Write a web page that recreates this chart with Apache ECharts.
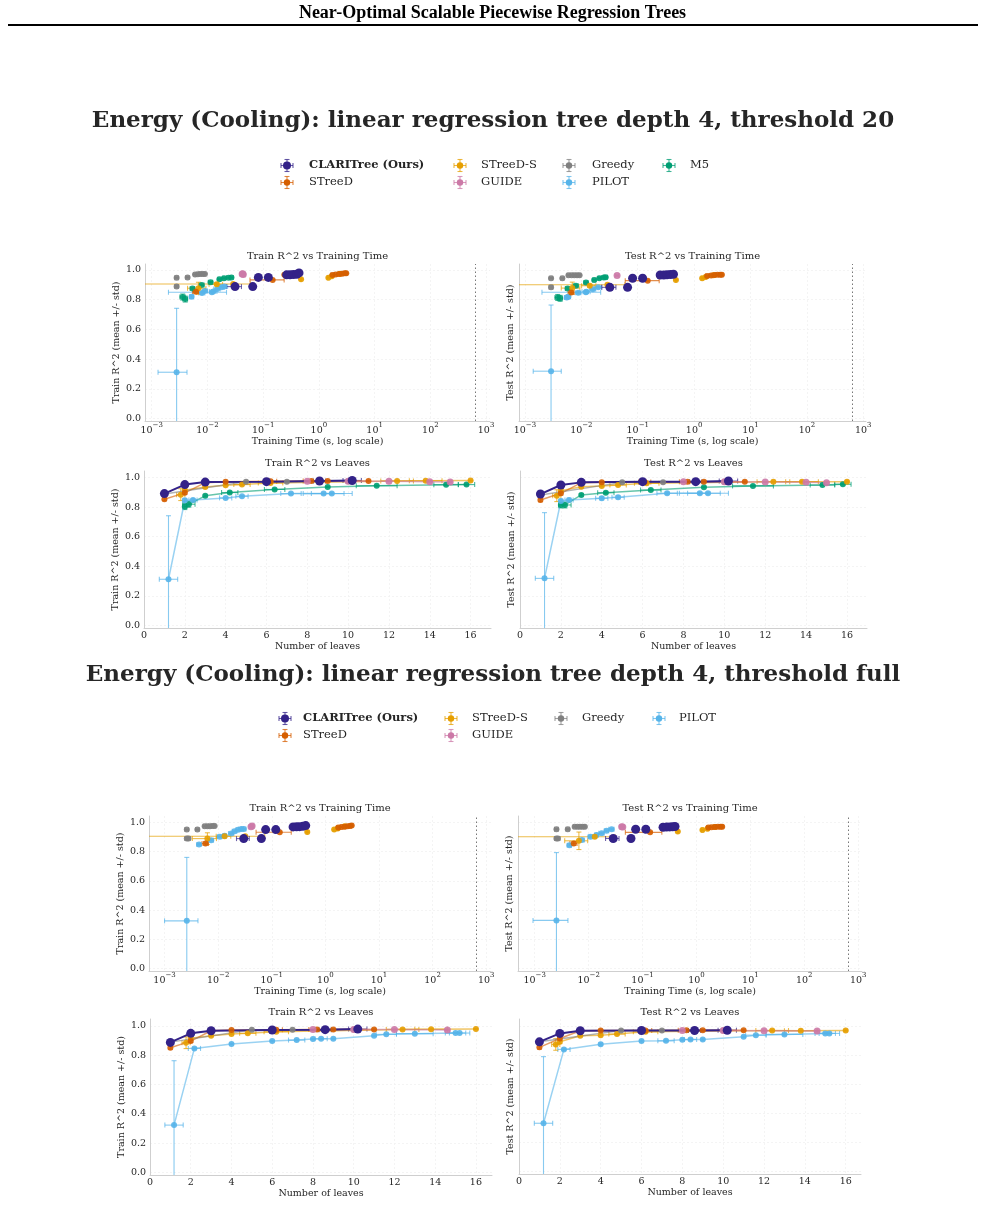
<!DOCTYPE html>
<html><head><meta charset="utf-8">
<script src="https://cdn.jsdelivr.net/npm/echarts@6/dist/echarts.min.js"></script>
<style>html,body{margin:0;padding:0;background:#fff}#c{width:985px;height:1222px}</style>
</head><body><div id="c"></div>
<script>
// ---------------- DATA ----------------
const TIME_LIMIT_S = 650;
const methods = ['CLARITree (Ours)', 'STreeD', 'STreeD-S', 'GUIDE', 'Greedy', 'PILOT', 'M5'];
const yTicks = [0, 0.2, 0.4, 0.6, 0.8, 1.0];
const logTimeTicks = [-3, -2, -1, 0, 1, 2, 3];
const leafTicks = [0, 2, 4, 6, 8, 10, 12, 14, 16];

// time rows: [time_s, time_std, r2, r2_std]; leaf rows: [leaves, leaves_std, r2, r2_std]
const s1TrainTime = {
  'CLARITree (Ours)': [[0.0313,0.0095,0.888,0.008],[0.065,0.004,0.888,0.008],[0.082,0.004,0.950,0.004],[0.124,0.005,0.950,0.004],[0.264,0.02,0.967,0.003],[0.303,0.02,0.968,0.003],[0.348,0.03,0.969,0.003],[0.40,0.03,0.971,0.003],[0.44,0.03,0.980,0.003]],
  'STreeD': [[0.0062,0.0008,0.854,0.01],[0.148,0.09,0.933,0.004],[0.24,0.01,0.968,0.003],[1.75,0.1,0.966,0.003],[2.0,0.1,0.969,0.003],[2.3,0.1,0.972,0.003],[2.6,0.15,0.975,0.003],[2.9,0.15,0.977,0.003],[3.1,0.15,0.978,0.003]],
  'STreeD-S': [[0.0069,0.0025,0.877,0.04],[0.0147,0.004,0.904,0.01],[0.029,0.03,0.905,0.005],[0.479,0.01,0.937,0.004],[1.48,0.05,0.948,0.003],[1.7,0.05,0.958,0.003],[2.4,0.1,0.974,0.003]],
  'GUIDE': [[0.042,0.003,0.972,0.004],[0.044,0.003,0.969,0.004],[0.043,0.003,0.975,0.004]],
  'Greedy': [[0.0028,0.0002,0.889,0.008],[0.0028,0.0002,0.948,0.004],[0.0044,0.0003,0.950,0.004],[0.0060,0.0003,0.970,0.003],[0.0067,0.0003,0.971,0.003],[0.0074,0.0003,0.972,0.003],[0.0082,0.0003,0.972,0.003],[0.0090,0.0003,0.973,0.003]],
  'PILOT': [[0.0028,0.0015,0.312,0.43],[0.0052,0.0004,0.820,0.01],[0.0080,0.001,0.845,0.008],[0.0090,0.001,0.858,0.006],[0.0120,0.010,0.850,0.006],[0.0128,0.002,0.855,0.006],[0.0150,0.002,0.872,0.005],[0.0180,0.002,0.883,0.005],[0.0200,0.003,0.888,0.005]],
  'M5': [[0.0036,0.0004,0.818,0.02],[0.0040,0.0004,0.804,0.02],[0.0054,0.0005,0.876,0.006],[0.0079,0.0008,0.899,0.005],[0.0114,0.001,0.917,0.005],[0.0164,0.001,0.937,0.004],[0.0198,0.001,0.944,0.004],[0.024,0.002,0.948,0.004],[0.027,0.002,0.949,0.004]]
};
const s1TestTime = {
  'CLARITree (Ours)': [[0.032,0.009,0.883,0.01],[0.066,0.004,0.883,0.01],[0.081,0.004,0.944,0.005],[0.122,0.005,0.944,0.005],[0.25,0.02,0.966,0.004],[0.29,0.02,0.966,0.004],[0.33,0.03,0.967,0.004],[0.38,0.03,0.969,0.004],[0.43,0.03,0.971,0.004]],
  'STreeD': [[0.0066,0.0008,0.849,0.012],[0.15,0.09,0.928,0.005],[0.24,0.01,0.962,0.004],[1.7,0.1,0.960,0.004],[2.0,0.1,0.963,0.004],[2.3,0.1,0.966,0.004],[2.6,0.15,0.967,0.004],[2.9,0.15,0.968,0.004],[3.1,0.15,0.968,0.004]],
  'STreeD-S': [[0.0069,0.0025,0.878,0.04],[0.0141,0.004,0.894,0.01],[0.029,0.03,0.90,0.006],[0.475,0.01,0.933,0.004],[1.39,0.05,0.944,0.004],[1.6,0.05,0.952,0.004],[2.2,0.1,0.964,0.004]],
  'GUIDE': [[0.043,0.003,0.962,0.005]],
  'Greedy': [[0.0029,0.0002,0.883,0.01],[0.0029,0.0002,0.944,0.005],[0.0046,0.0003,0.944,0.005],[0.0059,0.0003,0.964,0.004],[0.0067,0.0003,0.964,0.004],[0.0075,0.0003,0.965,0.004],[0.0084,0.0003,0.965,0.004],[0.0093,0.0003,0.965,0.004]],
  'PILOT': [[0.0029,0.0015,0.319,0.445],[0.0055,0.0005,0.815,0.01],[0.0059,0.0005,0.82,0.01],[0.0088,0.001,0.847,0.008],[0.012,0.010,0.85,0.008],[0.0123,0.002,0.854,0.008],[0.016,0.002,0.870,0.006],[0.0199,0.003,0.883,0.006]],
  'M5': [[0.0038,0.0004,0.815,0.02],[0.0042,0.0004,0.809,0.02],[0.0057,0.0005,0.876,0.008],[0.0080,0.0008,0.894,0.006],[0.0121,0.001,0.915,0.005],[0.0169,0.001,0.933,0.005],[0.0208,0.001,0.944,0.005],[0.025,0.002,0.950,0.005],[0.027,0.002,0.951,0.005]]
};
const s1TrainLeaves = {
  'CLARITree (Ours)': [[1,0,0.892,0.008],[2,0,0.953,0.004],[3,0,0.970,0.003],[6,0,0.973,0.003],[8.6,0.3,0.977,0.003],[10.2,0.45,0.981,0.003]],
  'STreeD': [[1,0,0.854,0.01],[2,0,0.897,0.01],[3,0,0.966,0.004],[4,0,0.972,0.003],[6.2,0.3,0.975,0.003],[8.2,0.4,0.977,0.003],[9,0,0.977,0.003],[11,0,0.978,0.003]],
  'STreeD-S': [[1.8,0.2,0.885,0.04],[2,0,0.915,0.01],[3,0,0.937,0.006],[4,0,0.948,0.004],[4.8,0.4,0.953,0.004],[6.2,0.6,0.964,0.003],[12.4,0.8,0.978,0.003],[13.8,0.8,0.979,0.003],[16,0,0.980,0.003]],
  'GUIDE': [[8,0,0.975,0.003],[10,0,0.975,0.003],[12,0,0.976,0.003],[14,0,0.972,0.003],[15,0,0.970,0.003]],
  'Greedy': [[1,0,0.889,0.008],[5,0,0.972,0.003],[7,0,0.973,0.003],[10,0,0.975,0.003]],
  'PILOT': [[1.2,0.45,0.312,0.43],[2,0,0.847,0.01],[2.4,0.2,0.848,0.01],[4,0.3,0.863,0.006],[4.8,0.3,0.874,0.005],[7.2,0.5,0.892,0.005],[8.8,1.0,0.892,0.005],[9.2,1.0,0.893,0.005]],
  'M5': [[2,0.1,0.804,0.02],[2.2,0.3,0.82,0.02],[3,0,0.877,0.006],[4.2,0.4,0.899,0.005],[6.4,0.5,0.920,0.004],[9,0,0.937,0.004],[11.4,1.0,0.945,0.004],[14.8,0.6,0.952,0.004],[15.8,0.4,0.953,0.004]]
};
const s1TestLeaves = {
  'CLARITree (Ours)': [[1,0,0.889,0.01],[2,0,0.950,0.005],[3,0,0.968,0.004],[6,0,0.973,0.004],[8.6,0.3,0.973,0.004],[10.2,0.45,0.977,0.004]],
  'STreeD': [[1,0,0.849,0.012],[2,0,0.894,0.012],[3,0,0.966,0.004],[4,0,0.968,0.004],[6.1,0.3,0.970,0.004],[8.2,0.4,0.973,0.004],[9,0,0.973,0.004],[11,0,0.973,0.004]],
  'STreeD-S': [[1.8,0.2,0.878,0.04],[2,0,0.912,0.012],[3,0,0.939,0.006],[4,0,0.944,0.005],[4.8,0.4,0.950,0.004],[6.2,0.6,0.962,0.004],[12.4,0.8,0.973,0.004],[13.8,0.8,0.973,0.004],[16,0,0.973,0.004]],
  'GUIDE': [[8,0,0.972,0.004],[10,0,0.972,0.004],[12,0,0.970,0.004],[14,0,0.968,0.004],[15,0,0.966,0.004]],
  'Greedy': [[1,0,0.883,0.01],[5,0,0.968,0.004],[7,0,0.969,0.004],[10,0,0.970,0.004]],
  'PILOT': [[1.2,0.45,0.318,0.445],[2,0,0.842,0.012],[2.4,0.2,0.849,0.012],[4,0.3,0.86,0.01],[4.8,0.3,0.867,0.01],[7.2,0.5,0.894,0.008],[8.8,1.0,0.894,0.008],[9.2,1.0,0.894,0.008]],
  'M5': [[2,0.1,0.815,0.02],[2.2,0.3,0.815,0.02],[3,0,0.883,0.008],[4.2,0.4,0.898,0.006],[6.4,0.5,0.916,0.005],[9,0,0.935,0.005],[11.4,1.0,0.944,0.005],[14.8,0.6,0.950,0.005],[15.8,0.4,0.955,0.005]]
};
const s2TrainTime = {
  'CLARITree (Ours)': [[0.030,0.008,0.890,0.008],[0.064,0.004,0.890,0.008],[0.077,0.004,0.952,0.004],[0.119,0.005,0.952,0.004],[0.25,0.02,0.970,0.003],[0.29,0.02,0.971,0.003],[0.33,0.03,0.972,0.003],[0.38,0.03,0.974,0.003],[0.43,0.03,0.979,0.003]],
  'STreeD': [[0.0058,0.0008,0.856,0.01],[0.141,0.09,0.934,0.004],[0.24,0.01,0.968,0.003],[1.74,0.1,0.966,0.003],[2.0,0.1,0.969,0.003],[2.3,0.1,0.972,0.003],[2.6,0.15,0.975,0.003],[2.9,0.15,0.977,0.003],[3.1,0.15,0.979,0.003]],
  'STreeD-S': [[0.0063,0.003,0.890,0.04],[0.0132,0.004,0.906,0.01],[0.032,0.042,0.906,0.005],[0.46,0.01,0.936,0.004],[1.46,0.05,0.952,0.003],[1.7,0.05,0.960,0.003],[2.3,0.1,0.974,0.003]],
  'GUIDE': [[0.043,0.003,0.977,0.004],[0.041,0.003,0.972,0.004]],
  'Greedy': [[0.0026,0.0002,0.890,0.008],[0.0028,0.0002,0.890,0.008],[0.0026,0.0002,0.952,0.004],[0.0041,0.0003,0.952,0.004],[0.0056,0.0003,0.975,0.003],[0.0063,0.0003,0.975,0.003],[0.0070,0.0003,0.975,0.003],[0.0078,0.0003,0.976,0.003],[0.0086,0.0003,0.976,0.003]],
  'PILOT': [[0.0026,0.0016,0.326,0.435],[0.0044,0.0004,0.850,0.006],[0.0074,0.0008,0.879,0.006],[0.0107,0.001,0.902,0.005],[0.0132,0.001,0.909,0.005],[0.0176,0.002,0.925,0.005],[0.0203,0.002,0.940,0.004],[0.0235,0.002,0.950,0.004],[0.027,0.003,0.955,0.004],[0.030,0.003,0.956,0.004]]
};
const s2TestTime = {
  'CLARITree (Ours)': [[0.0286,0.008,0.891,0.01],[0.061,0.004,0.891,0.01],[0.0745,0.004,0.954,0.005],[0.115,0.005,0.954,0.005],[0.24,0.02,0.968,0.004],[0.28,0.02,0.969,0.004],[0.32,0.03,0.970,0.004],[0.36,0.03,0.971,0.004],[0.40,0.03,0.973,0.004]],
  'STreeD': [[0.0053,0.0008,0.856,0.012],[0.138,0.09,0.933,0.005],[0.23,0.01,0.970,0.004],[1.66,0.1,0.966,0.004],[1.9,0.1,0.968,0.004],[2.2,0.1,0.970,0.004],[2.5,0.15,0.971,0.004],[2.8,0.15,0.972,0.004],[3.0,0.15,0.972,0.004]],
  'STreeD-S': [[0.0066,0.003,0.875,0.06],[0.013,0.018,0.903,0.01],[0.45,0.01,0.938,0.004],[1.29,0.05,0.949,0.004],[1.6,0.05,0.958,0.004],[2.2,0.1,0.969,0.004]],
  'GUIDE': [[0.041,0.003,0.972,0.004],[0.043,0.003,0.970,0.004]],
  'Greedy': [[0.00253,0.0002,0.891,0.01],[0.0027,0.0002,0.891,0.01],[0.00253,0.0002,0.954,0.005],[0.0041,0.0003,0.954,0.005],[0.0055,0.0003,0.972,0.004],[0.0062,0.0003,0.972,0.004],[0.0069,0.0003,0.972,0.004],[0.0077,0.0003,0.972,0.004],[0.0085,0.0003,0.972,0.004]],
  'PILOT': [[0.00253,0.0016,0.329,0.465],[0.0044,0.0004,0.845,0.008],[0.0075,0.0008,0.88,0.006],[0.0108,0.001,0.903,0.006],[0.014,0.001,0.914,0.005],[0.0174,0.002,0.926,0.005],[0.0215,0.002,0.944,0.005],[0.0266,0.003,0.954,0.005]]
};
const s2TrainLeaves = {
  'CLARITree (Ours)': [[1,0,0.888,0.008],[2,0,0.950,0.004],[3,0,0.968,0.003],[6,0,0.973,0.003],[8.6,0.3,0.975,0.003],[10.2,0.45,0.979,0.003]],
  'STreeD': [[1,0,0.852,0.01],[2,0,0.897,0.01],[3,0,0.968,0.003],[4,0,0.973,0.003],[6.2,0.3,0.975,0.003],[8.2,0.4,0.977,0.003],[9,0,0.977,0.003],[11,0,0.977,0.003]],
  'STreeD-S': [[1.77,0.2,0.886,0.04],[2,0,0.916,0.01],[3,0,0.934,0.005],[4,0,0.945,0.004],[4.8,0.4,0.950,0.004],[6.2,0.6,0.961,0.003],[12.4,0.8,0.977,0.003],[13.8,0.8,0.978,0.003],[16,0,0.980,0.003]],
  'GUIDE': [[8,0,0.976,0.003],[10,0,0.976,0.003],[12,0,0.976,0.003],[14.6,0,0.972,0.003]],
  'Greedy': [[1,0,0.890,0.008],[5,0,0.974,0.003],[7,0,0.975,0.003],[10,0,0.976,0.003]],
  'PILOT': [[1.18,0.45,0.323,0.44],[2.18,0.3,0.847,0.006],[4,0,0.877,0.005],[6,0,0.897,0.005],[7.2,0.4,0.904,0.005],[8,0,0.911,0.004],[8.4,0.3,0.913,0.004],[9,0,0.913,0.004],[11,0,0.934,0.004],[11.6,0.5,0.943,0.004],[13,0.9,0.948,0.004],[15,0.5,0.952,0.004],[15.2,0.5,0.952,0.004]]
};
const s2TestLeaves = {
  'CLARITree (Ours)': [[1,0,0.891,0.01],[2,0,0.949,0.005],[3,0,0.967,0.004],[6,0,0.969,0.004],[8.6,0.3,0.969,0.004],[10.2,0.45,0.971,0.004]],
  'STreeD': [[1,0,0.853,0.012],[2,0,0.914,0.012],[3,0,0.967,0.004],[4,0,0.969,0.004],[6.2,0.3,0.969,0.004],[8.2,0.4,0.970,0.004],[9,0,0.970,0.004],[11,0,0.970,0.004]],
  'STreeD-S': [[1.8,0.2,0.873,0.04],[2,0,0.891,0.012],[3,0,0.933,0.006],[4,0,0.937,0.005],[4.8,0.4,0.944,0.005],[6.2,0.6,0.960,0.004],[12.4,0.8,0.969,0.004],[13.8,0.8,0.967,0.004],[16,0,0.969,0.004]],
  'GUIDE': [[8,0,0.969,0.004],[10,0,0.969,0.004],[12,0,0.968,0.004],[14.6,0,0.965,0.004]],
  'Greedy': [[1,0,0.891,0.01],[5,0,0.969,0.004],[7,0,0.969,0.004],[10,0,0.969,0.004]],
  'PILOT': [[1.2,0.45,0.331,0.458],[2.2,0.3,0.839,0.008],[4,0,0.875,0.008],[6,0,0.896,0.007],[7.2,0.4,0.898,0.006],[8,0,0.905,0.006],[8.4,0.3,0.907,0.006],[9,0,0.907,0.005],[11,0,0.926,0.005],[11.6,0.5,0.937,0.005],[13,0.9,0.942,0.005],[15,0.5,0.949,0.005],[15.2,0.5,0.949,0.005]]
};
const s1LegendColumns = [['CLARITree (Ours)', 'STreeD'], ['STreeD-S', 'GUIDE'], ['Greedy', 'PILOT'], ['M5']];
const s2LegendColumns = [['CLARITree (Ours)', 'STreeD'], ['STreeD-S', 'GUIDE'], ['Greedy'], ['PILOT']];
const headerText = 'Near-Optimal Scalable Piecewise Regression Trees';
const s1Title = 'Energy (Cooling): linear regression tree depth 4, threshold 20';
const s2Title = 'Energy (Cooling): linear regression tree depth 4, threshold full';

// ---------------- STYLE / LAYOUT ----------------
const COLORS = {'CLARITree (Ours)':'#332288','STreeD':'#d55e00','STreeD-S':'#e69f00','GUIDE':'#cc79a7','Greedy':'#808080','PILOT':'#56b4e9','M5':'#009e73'};
const DRAW_ORDER = ['M5','PILOT','STreeD-S','STreeD','Greedy','GUIDE','CLARITree (Ours)'];
const SERIF = 'DejaVu Serif';
const TXT = '#262626';
const GRIDLINE = {show: true, lineStyle: {color: '#f1f1f1', width: 0.8, type: [2, 2]}};

const panels = [
  {d:s1TrainTime, kind:'time', title:'Train R^2 vs Training Time', yName:'Train R^2 (mean +/- std)', yLab:true, box:[145,264,345,157], xr:[-3.12,3.07], yr:[-0.016,1.04], ty:256},
  {d:s1TestTime, kind:'time', title:'Test R^2 vs Training Time', yName:'Test R^2 (mean +/- std)', yLab:false, box:[519,264,347,157], xr:[-3.106,3.048], yr:[-0.016,1.04], ty:256},
  {d:s1TrainLeaves, kind:'leaves', title:'Train R^2 vs Leaves', yName:'Train R^2 (mean +/- std)', yLab:true, box:[144,471,347,157], xr:[0,17], yr:[-0.018,1.045], ty:463},
  {d:s1TestLeaves, kind:'leaves', title:'Test R^2 vs Leaves', yName:'Test R^2 (mean +/- std)', yLab:false, box:[520,471,347,157], xr:[0,16.98], yr:[-0.018,1.045], ty:463},
  {d:s2TrainTime, kind:'time', title:'Train R^2 vs Training Time', yName:'Train R^2 (mean +/- std)', yLab:true, box:[149,816,342,155], xr:[-3.29,3.09], yr:[-0.018,1.045], ty:808},
  {d:s2TestTime, kind:'time', title:'Test R^2 vs Training Time', yName:'Test R^2 (mean +/- std)', yLab:false, box:[518,816,344,155], xr:[-3.31,3.07], yr:[-0.018,1.045], ty:808},
  {d:s2TrainLeaves, kind:'leaves', title:'Train R^2 vs Leaves', yName:'Train R^2 (mean +/- std)', yLab:true, box:[150,1019,342,156], xr:[0,16.79], yr:[-0.018,1.048], ty:1012},
  {d:s2TestLeaves, kind:'leaves', title:'Test R^2 vs Leaves', yName:'Test R^2 (mean +/- std)', yLab:false, box:[519,1019,342,155], xr:[0,16.75], yr:[-0.018,1.048], ty:1012}
];

function errRenderer(color) {
  return function (params, api) {
    const cs = params.coordSys;
    const L = cs.x, R = cs.x + cs.width, T = cs.y, B = cs.y + cs.height;
    const y = api.value(3), x = api.value(0);
    const c = api.coord([x, y]);
    const xl = api.coord([api.value(1), y])[0], xh = api.coord([api.value(2), y])[0];
    const yl = api.coord([x, api.value(4)])[1], yh = api.coord([x, api.value(5)])[1];
    const st = {stroke: color, lineWidth: 1.1, opacity: 0.7};
    const ch = [];
    const seg = (a, b, c2, d) => ch.push({type:'line', shape:{x1:a, y1:b, x2:c2, y2:d}, style:st});
    const cap = 2.5;
    if (xh - xl > 0.3) {
      seg(Math.max(xl, L), c[1], Math.min(xh, R), c[1]);
      if (xl >= L) seg(xl, c[1]-cap, xl, c[1]+cap);
      if (xh <= R) seg(xh, c[1]-cap, xh, c[1]+cap);
    }
    if (yl - yh > 0.3) {
      seg(c[0], Math.min(yl, B), c[0], Math.max(yh, T));
      if (yl <= B) seg(c[0]-cap, yl, c[0]+cap, yl);
      if (yh >= T) seg(c[0]-cap, yh, c[0]+cap, yh);
    }
    return {type:'group', children: ch};
  };
}

const grids = [], xAxes = [], yAxes = [], series = [], titles = [], graphics = [];
const lab = {fontFamily: SERIF, fontSize: 9.5, color: TXT};

panels.forEach((p, i) => {
  const [gl, gt, gw, gh] = p.box;
  grids.push({left: gl, top: gt, width: gw, height: gh, outerBoundsMode: 'none', containLabel: false});
  const isTime = p.kind === 'time';
  const xt = isTime ? logTimeTicks : leafTicks;
  xAxes.push({
    gridIndex: i, type: 'value', min: p.xr[0], max: p.xr[1],
    axisLine: {show: true, onZero: false, lineStyle: {color: '#cfcfcf', width: 1}},
    axisTick: {show: false, customValues: xt},
    splitLine: GRIDLINE,
    axisLabel: isTime ? {
      customValues: xt, margin: 1,
      formatter: v => '{b|10}{s|' + (v < 0 ? '\u2212' + (-v) : v) + '}',
      rich: {b: {fontFamily: SERIF, fontSize: 9.5, color: TXT, lineHeight: 14, verticalAlign: 'bottom'},
             s: {fontFamily: SERIF, fontSize: 7, color: TXT, lineHeight: 7, verticalAlign: 'top'}}
    } : Object.assign({customValues: xt, margin: 3}, lab),
    name: isTime ? 'Training Time (s, log scale)' : 'Number of leaves',
    nameLocation: 'middle', nameGap: isTime ? 13 : 12,
    nameTextStyle: {fontFamily: SERIF, fontSize: 9.5, color: TXT}
  });
  yAxes.push({
    gridIndex: i, type: 'value', min: p.yr[0], max: p.yr[1],
    axisLine: {show: true, onZero: false, lineStyle: {color: '#cfcfcf', width: 1}},
    axisTick: {show: false, customValues: yTicks},
    splitLine: GRIDLINE,
    axisLabel: Object.assign({show: p.yLab, customValues: yTicks, margin: 4, formatter: v => v.toFixed(1)}, lab),
    name: p.yName, nameLocation: 'middle', nameGap: p.yLab ? 17 : 3,
    nameTextStyle: {fontFamily: SERIF, fontSize: 9.5, color: TXT}
  });
  titles.push({text: p.title, left: gl + gw / 2, top: p.ty - 6, textAlign: 'center', padding: 0,
    textStyle: {fontFamily: SERIF, fontWeight: 'normal', fontSize: 10, color: TXT, lineHeight: 12}});

  DRAW_ORDER.forEach(m => {
    const rows = p.d[m];
    if (!rows) return;
    const col = COLORS[m];
    const ours = m === 'CLARITree (Ours)';
    const tx = v => isTime ? Math.log10(v) : v;
    const errData = rows.map(r => {
      const lo = r[0] - r[1];
      return [tx(r[0]), isTime ? (lo > 0 ? Math.log10(lo) : -99) : lo, tx(r[0] + r[1]), r[2], r[2] - r[3], r[2] + r[3]];
    });
    series.push({type: 'custom', name: m + ' err', xAxisIndex: i, yAxisIndex: i, silent: true,
      renderItem: errRenderer(col), data: errData, encode: {x: 0, y: 3}, animation: false});
    const pts = rows.map(r => [tx(r[0]), r[2]]);
    const size = ours ? 9 : (m === 'GUIDE' ? 7 : 6);
    if (isTime) {
      series.push({type: 'scatter', name: m, xAxisIndex: i, yAxisIndex: i, data: pts, symbol: 'circle',
        symbolSize: size, itemStyle: {color: col, opacity: ours ? 1 : 0.9}, silent: true, animation: false,
        markLine: ours ? {silent: true, symbol: 'none', label: {show: false}, animation: false,
          lineStyle: {color: '#777', width: 1, type: [1.5, 2.5]}, data: [{xAxis: Math.log10(TIME_LIMIT_S)}]} : undefined});
    } else {
      series.push({type: 'line', name: m, xAxisIndex: i, yAxisIndex: i, data: pts, symbol: 'circle',
        symbolSize: size, showSymbol: true, itemStyle: {color: col, opacity: ours ? 1 : 0.9, borderWidth: 0},
        lineStyle: {color: col, width: ours ? 2 : 1.5, opacity: ours ? 1 : 0.6}, silent: true, animation: false});
    }
  });
});

// section titles & header
titles.push({text: headerText, left: 492.5, top: 3, textAlign: 'center', padding: 0,
  textStyle: {fontFamily: 'Liberation Serif', fontWeight: 'bold', fontSize: 18, color: '#000', lineHeight: 20}});
titles.push({text: s1Title, left: 493, top: 106, textAlign: 'center', padding: 0,
  textStyle: {fontFamily: SERIF, fontWeight: 'bold', fontSize: 23, color: TXT, lineHeight: 30}});
titles.push({text: s2Title, left: 493, top: 660, textAlign: 'center', padding: 0,
  textStyle: {fontFamily: SERIF, fontWeight: 'bold', fontSize: 23, color: TXT, lineHeight: 30}});

graphics.push({type: 'rect', shape: {x: 8, y: 24, width: 970, height: 2}, style: {fill: '#000'}});

function legendItems(columns, iconX, textX, rowY) {
  columns.forEach((colItems, ci) => {
    colItems.forEach((m, ri) => {
      const col = COLORS[m], cy = rowY[ri], cx = iconX[ci];
      const st = {stroke: col, lineWidth: 1.1, opacity: 0.75};
      const r = m === 'CLARITree (Ours)' ? 4 : 3.2;
      graphics.push({type: 'group', x: cx, y: cy, silent: true, children: [
        {type: 'line', shape: {x1: -6, y1: 0, x2: 6, y2: 0}, style: st},
        {type: 'line', shape: {x1: 0, y1: -6, x2: 0, y2: 6}, style: st},
        {type: 'line', shape: {x1: -6, y1: -2.5, x2: -6, y2: 2.5}, style: st},
        {type: 'line', shape: {x1: 6, y1: -2.5, x2: 6, y2: 2.5}, style: st},
        {type: 'line', shape: {x1: -2.5, y1: -6, x2: 2.5, y2: -6}, style: st},
        {type: 'line', shape: {x1: -2.5, y1: 6, x2: 2.5, y2: 6}, style: st},
        {type: 'circle', shape: {cx: 0, cy: 0, r: r}, style: {fill: col}}
      ]});
      graphics.push({type: 'text', x: textX[ci], y: cy, silent: true, style: {
        text: m, fontFamily: SERIF, fontSize: 11.5, fontWeight: m === 'CLARITree (Ours)' ? 'bold' : 'normal',
        fill: TXT, align: 'left', verticalAlign: 'middle'}});
    });
  });
}
legendItems(s1LegendColumns, [287, 460, 569, 669], [309, 481, 592, 690], [165.5, 182.5]);
legendItems(s2LegendColumns, [285, 451, 561, 659], [303, 472, 582, 679], [718.5, 735.5]);

const chart = echarts.init(document.getElementById('c'), null, {renderer: 'canvas'});
chart.setOption({
  animation: false, backgroundColor: '#fff',
  title: titles, grid: grids, xAxis: xAxes, yAxis: yAxes, series: series, graphic: graphics
});
</script></body></html>
